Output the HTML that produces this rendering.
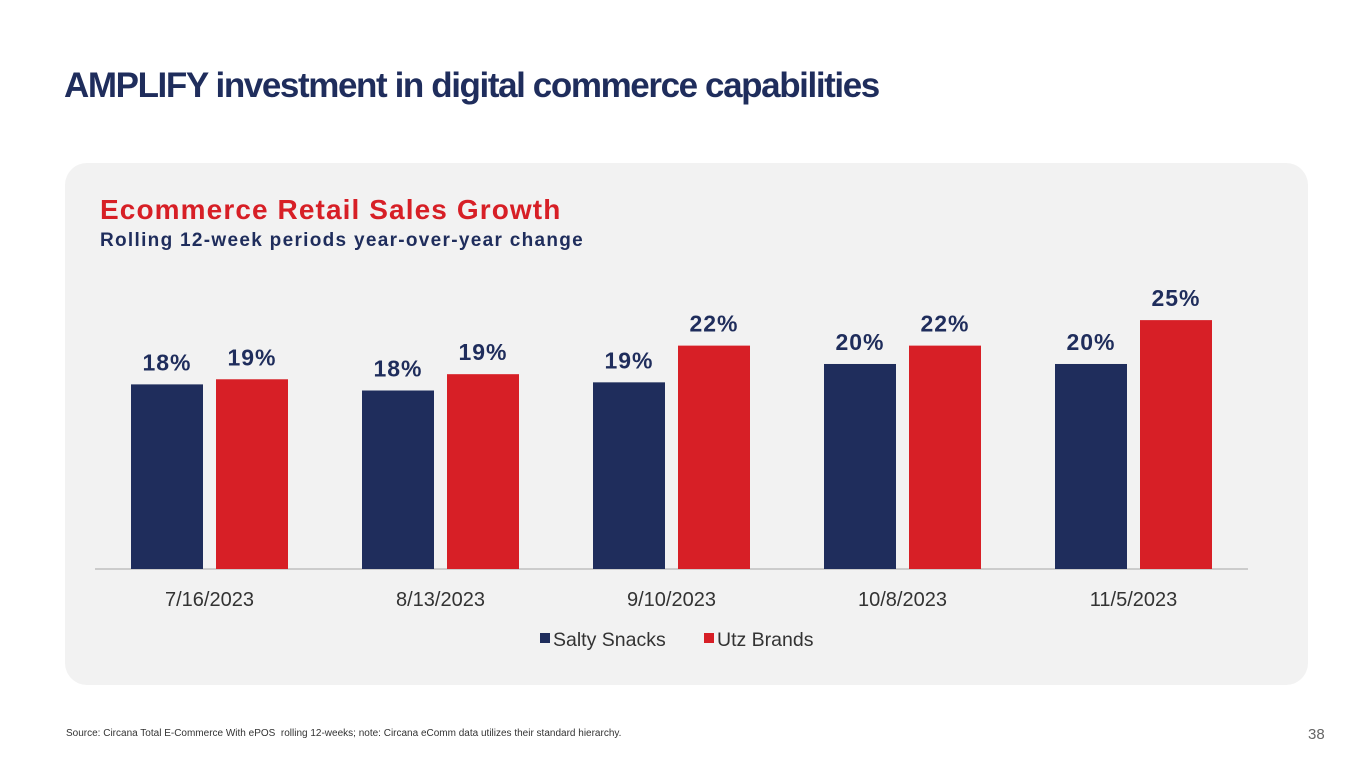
<!DOCTYPE html>
<html><head><meta charset="utf-8"><style>
body{margin:0;width:1365px;height:768px;background:#fff;font-family:"Liberation Sans",sans-serif;position:relative;overflow:hidden}
.t{position:absolute;white-space:nowrap}
</style></head><body>
<div class="t" style="left:64px;top:66px;font-size:35px;font-weight:bold;color:#1f2d5c;letter-spacing:-1.4px">AMPLIFY investment in digital commerce capabilities</div>
<div style="position:absolute;left:65px;top:163px;width:1243px;height:522px;background:#f2f2f2;border-radius:22px"></div>
<div class="t" style="left:100px;top:194px;font-size:28px;font-weight:bold;color:#d71f26;letter-spacing:1.1px">Ecommerce Retail Sales Growth</div>
<div class="t" style="left:100px;top:230px;font-size:19px;font-weight:bold;color:#1f2d5c;letter-spacing:1.3px">Rolling 12-week periods year-over-year change</div>
<svg id="chart" width="1365" height="768" style="position:absolute;left:0;top:0"></svg>
<div class="t" style="left:66px;top:728px;font-size:10px;color:#333">Source: Circana Total E-Commerce With ePOS&nbsp; rolling 12-weeks; note: Circana eComm data utilizes their standard hierarchy.</div>
<div class="t" style="left:1308px;top:726px;font-size:15px;color:#666">38</div>
<script>
const categories=["7/16/2023","8/13/2023","9/10/2023","10/8/2023","11/5/2023"];
const saltyValues=[18.1,17.5,18.3,20.1,20.1];
const utzValues=[18.6,19.1,21.9,21.9,24.4];
const saltyLabels=["18%","18%","19%","20%","20%"];
const utzLabels=["19%","19%","22%","22%","25%"];
const NS="http://www.w3.org/2000/svg";
const svg=document.getElementById('chart');
const base=569,pxPer=10.2,step=231,bw=72,gap=13;
const y=v=>base-v*pxPer;
const cx=i=>209.5+i*step;
function mk(t,a){const e=document.createElementNS(NS,t);for(const k in a)e.setAttribute(k,a[k]);svg.appendChild(e);return e;}
const ax=mk('line',{x1:95,x2:1248,y1:base,y2:base,stroke:'#bfbfbf','stroke-width':1.5});


categories.forEach((c,i)=>{
  const series=[[saltyValues[i],saltyLabels[i],'#1f2d5c',cx(i)-gap/2-bw],[utzValues[i],utzLabels[i],'#d71f26',cx(i)+gap/2]];
  series.forEach((s,j)=>{
    const r=mk('rect',{x:s[3],y:y(s[0]),width:bw,height:base-y(s[0]),fill:s[2]});
    
    
    const t=mk('text',{x:s[3]+bw/2,y:y(s[0])-14,'text-anchor':'middle','font-size':23,'font-weight':'bold',fill:'#1f2d5c','font-family':'Liberation Sans','letter-spacing':1});
    t.textContent=s[1];
    
    
  });
  const l=mk('text',{x:cx(i),y:606,'text-anchor':'middle','font-size':20,fill:'#333','font-family':'Liberation Sans'});
  l.textContent=c;
  
  
});
[['Salty Snacks','#1f2d5c',540],['Utz Brands','#d71f26',704]].forEach(d=>{
  const r=mk('rect',{x:d[2],y:633,width:10,height:10,fill:d[1]});
  
  
  const t=mk('text',{x:d[2]+13,y:646,'font-size':19.5,fill:'#333','font-family':'Liberation Sans'});
  t.textContent=d[0];
  
  
});
</script>
</body></html>
